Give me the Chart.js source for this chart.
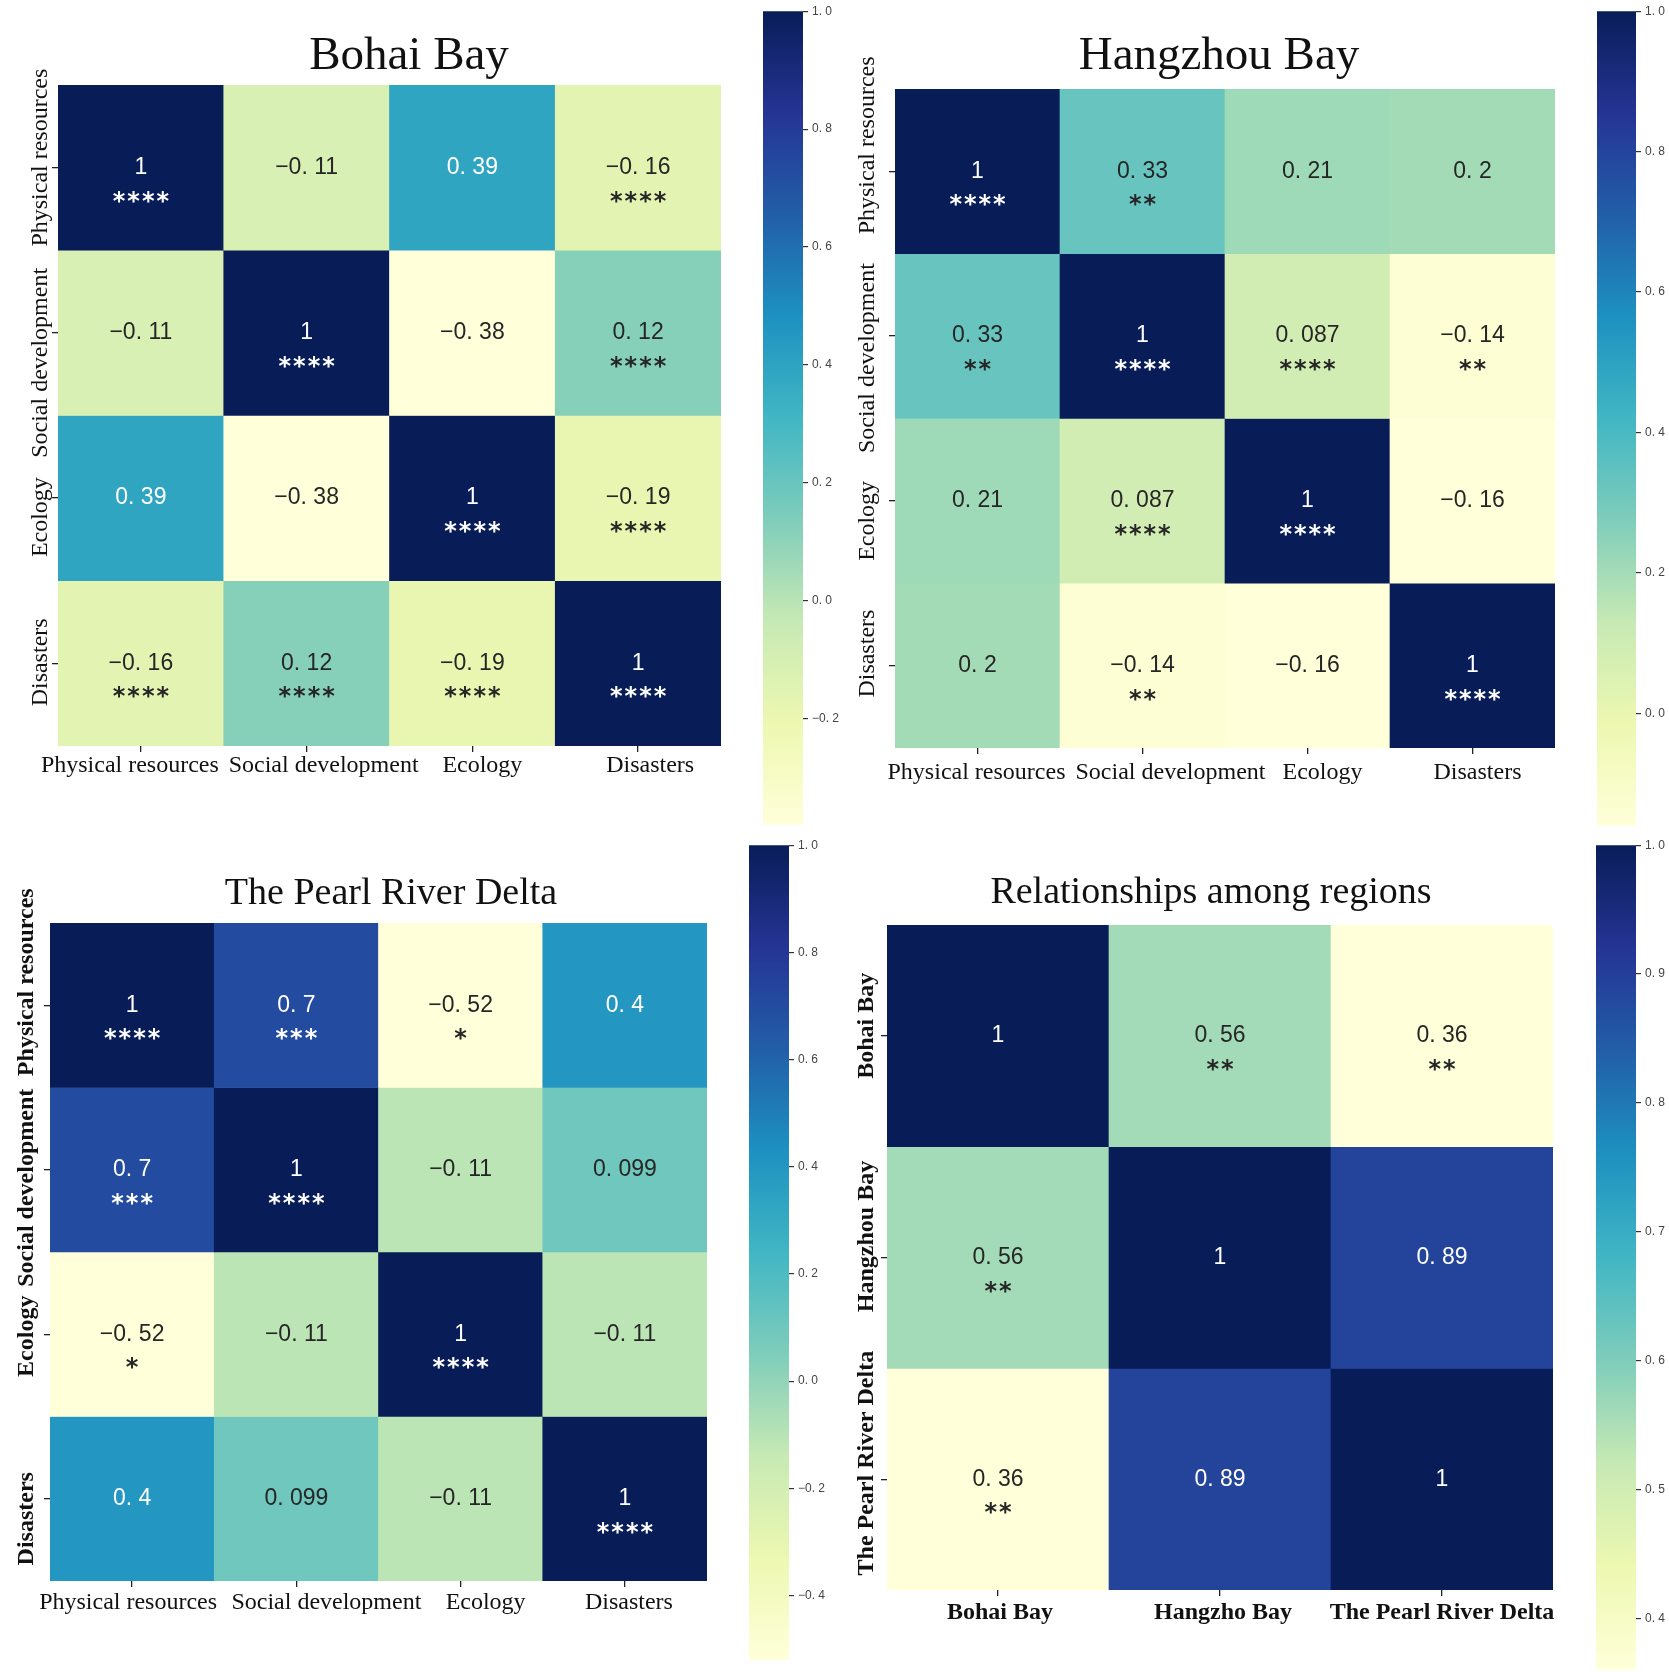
<!DOCTYPE html>
<html>
<head>
<meta charset="utf-8">
<script src="https://cdn.jsdelivr.net/npm/chart.js@4.4.1/dist/chart.umd.min.js"></script>
<style>
  html, body { margin: 0; padding: 0; background: #fff; }
  #page { position: relative; width: 1669px; height: 1672px; overflow: hidden; background: #fff; }
  canvas { position: absolute; }
</style>
</head>
<body>
<div id="page"></div>
<script>
// ===============================
// data
// ===============================
const factorLabels = ["Physical resources", "Social development", "Ecology", "Disasters"];
const regionRowLabels = ["Bohai Bay", "Hangzhou Bay", "The Pearl River Delta"];
const regionColLabels = ["Bohai Bay", "Hangzho Bay", "The Pearl River Delta"];

const bohaiCorr = [
  [1, -0.11, 0.39, -0.16],
  [-0.11, 1, -0.38, 0.12],
  [0.39, -0.38, 1, -0.19],
  [-0.16, 0.12, -0.19, 1]
];
const bohaiSig = [
  ["****", "", "", "****"],
  ["", "****", "", "****"],
  ["", "", "****", "****"],
  ["****", "****", "****", "****"]
];

const hangzhouCorr = [
  [1, 0.33, 0.21, 0.2],
  [0.33, 1, 0.087, -0.14],
  [0.21, 0.087, 1, -0.16],
  [0.2, -0.14, -0.16, 1]
];
const hangzhouSig = [
  ["****", "**", "", ""],
  ["**", "****", "****", "**"],
  ["", "****", "****", ""],
  ["", "**", "", "****"]
];

const prdCorr = [
  [1, 0.7, -0.52, 0.4],
  [0.7, 1, -0.11, 0.099],
  [-0.52, -0.11, 1, -0.11],
  [0.4, 0.099, -0.11, 1]
];
const prdSig = [
  ["****", "***", "*", ""],
  ["***", "****", "", ""],
  ["*", "", "****", ""],
  ["", "", "", "****"]
];

const regionCorr = [
  [1, 0.56, 0.36],
  [0.56, 1, 0.89],
  [0.36, 0.89, 1]
];
const regionSig = [
  ["", "**", "**"],
  ["**", "", ""],
  ["**", "", ""]
];

const bohaiCbarTicks = [-0.2, 0, 0.2, 0.4, 0.6, 0.8, 1.0];
const hangzhouCbarTicks = [0, 0.2, 0.4, 0.6, 0.8, 1.0];
const prdCbarTicks = [-0.4, -0.2, 0, 0.2, 0.4, 0.6, 0.8, 1.0];
const regionCbarTicks = [0.4, 0.5, 0.6, 0.7, 0.8, 0.9, 1.0];

// ===============================
// colormap (YlGnBu)
// ===============================
const YlGnBu = ["#ffffd9", "#edf8b1", "#c7e9b4", "#7fcdbb", "#41b6c4",
                "#1d91c0", "#225ea8", "#253494", "#081d58"];

function hexRgb(h) {
  return [1, 3, 5].map(i => parseInt(h.slice(i, i + 2), 16));
}

function cmapRgb(t) {
  t = Math.max(0, Math.min(1, t));
  const p = t * 8;
  const i = Math.min(7, Math.floor(p));
  const f = p - i;
  const a = hexRgb(YlGnBu[i]), b = hexRgb(YlGnBu[i + 1]);
  return a.map((v, k) => Math.round(v + (b[k] - v) * f));
}

function rgbStr(c) { return "rgb(" + c.join(",") + ")"; }

function textColorFor(c) {
  const lin = c.map(v => {
    v = v / 255;
    return v <= 0.03928 ? v / 12.92 : Math.pow((v + 0.055) / 1.055, 2.4);
  });
  const lum = 0.2126 * lin[0] + 0.7152 * lin[1] + 0.0722 * lin[2];
  return lum > 0.408 ? "#262626" : "#ffffff";
}

function fmtNum(v) {
  return String(v).replace("-", "\u2212").replace(".", ". ");
}

function makeCanvas(x, y, w, h) {
  const c = document.createElement("canvas");
  c.width = w; c.height = h;
  c.style.left = x + "px"; c.style.top = y + "px";
  c.style.width = w + "px"; c.style.height = h + "px";
  document.getElementById("page").appendChild(c);
  return c;
}

// ===============================
// heatmap
// ===============================
function heatmap(p) {
  const n = p.rows.length;
  const vmin = Math.min(...p.corr.flat());
  const [ax0, ay0, ax1, ay1] = p.area;
  const [cx, cy, cw, ch] = p.box;
  const yAxisW = ax0 - cx;
  const xAxisH = 44;

  const datasets = p.corr.map((row, r) => ({
    data: row.map(() => [r - 0.5, r + 0.5]),
    backgroundColor: row.map(v => rgbStr(cmapRgb((v - vmin) / (1 - vmin)))),
    borderWidth: 0,
    barPercentage: 1,
    categoryPercentage: 1,
    grouped: false
  }));

  const labels = {
    id: "heatText",
    afterDatasetsDraw(chart) {
      const ctx = chart.ctx;
      const xs = chart.scales.x, ys = chart.scales.y;
      ctx.save();
      p.corr.forEach((row, r) => {
        row.forEach((v, c) => {
          const px = xs.getPixelForValue(c);
          const py = ys.getPixelForValue(r);
          const col = textColorFor(cmapRgb((v - vmin) / (1 - vmin)));
          ctx.fillStyle = col;
          ctx.textAlign = "center";
          ctx.textBaseline = "middle";
          ctx.letterSpacing = "0px";
          ctx.font = '23px "Liberation Sans"';
          ctx.fillText(fmtNum(v), px, py);
          const s = p.sig[r][c];
          if (s) {
            ctx.textBaseline = "alphabetic";
            ctx.font = 'bold 24px "DejaVu Sans"';
            ctx.letterSpacing = "2px";
            ctx.fillText(s, px + 1, py + 41);
          }
        });
      });
      ctx.restore();
    },
    afterDraw(chart) {
      const ctx = chart.ctx;
      const xs = chart.scales.x, ys = chart.scales.y;
      ctx.save();
      ctx.fillStyle = "#111";
      ctx.textAlign = "center";
      // title
      ctx.font = p.titleSize + 'px "Liberation Serif"';
      ctx.textBaseline = "alphabetic";
      ctx.fillText(p.title, p.titleX - cx, p.titleY - cy);
      // x tick labels
      ctx.font = (p.xBold ? "bold " : "") + '24px "Liberation Serif"';
      ctx.textBaseline = "top";
      p.cols.forEach((name, c) => {
        ctx.fillText(name, xs.getPixelForValue(c) + p.xShift[c], chart.chartArea.bottom + p.xPad);
      });
      // y tick labels, rotated
      ctx.font = (p.yBold ? "bold " : "") + '24px "Liberation Serif"';
      ctx.textBaseline = "middle";
      p.rows.forEach((name, r) => {
        ctx.save();
        ctx.translate(p.yLabX - cx, ys.getPixelForValue(r) + p.yShift[r]);
        ctx.rotate(-Math.PI / 2);
        ctx.fillText(name, 0, 0);
        ctx.restore();
      });
      ctx.restore();
    }
  };

  new Chart(makeCanvas(cx, cy, cw, ch), {
    type: "bar",
    data: { labels: p.cols, datasets: datasets },
    options: {
      responsive: false,
      animation: false,
      devicePixelRatio: 1,
      layout: {
        padding: { left: 0, top: ay0 - cy, right: cx + cw - ax1, bottom: cy + ch - ay1 - xAxisH }
      },
      plugins: { legend: { display: false }, tooltip: { enabled: false } },
      scales: {
        x: {
          offset: true,
          grid: { display: true, offset: false, drawOnChartArea: false, drawTicks: true,
                  tickLength: 6, color: "#222", lineWidth: 1.3 },
          border: { display: false },
          ticks: { display: false },
          afterFit(s) { s.height = xAxisH; }
        },
        y: {
          type: "linear",
          min: -0.5, max: n - 0.5,
          reverse: true,
          afterBuildTicks(s) { s.ticks = p.rows.map((_, i) => ({ value: i })); },
          grid: { display: true, drawOnChartArea: false, drawTicks: true,
                  tickLength: 6, color: "#222", lineWidth: 1.3 },
          border: { display: false },
          ticks: { display: false },
          afterFit(s) { s.width = yAxisW; }
        }
      }
    },
    plugins: [labels]
  });
}

// ===============================
// colorbar
// ===============================
function colorbar(b) {
  const [bx0, by0, bx1, by1] = b.bar;
  const vmin = b.vmin, vmax = 1;
  const labW = 50;
  const top = Math.max(0, by0 - 10);
  const w = bx1 - bx0 + labW;
  const h = by1 + 10 - top;

  new Chart(makeCanvas(bx0, top, w, h), {
    type: "bar",
    data: {
      labels: [""],
      datasets: [{
        data: [[vmin, vmax]],
        backgroundColor(ctx) {
          const chart = ctx.chart;
          if (!chart.chartArea) return YlGnBu[0];
          const ys = chart.scales.y;
          const g = chart.ctx.createLinearGradient(0, ys.getPixelForValue(vmin), 0, ys.getPixelForValue(vmax));
          YlGnBu.forEach((c, i) => g.addColorStop(i / 8, c));
          return g;
        },
        borderWidth: 0,
        barPercentage: 1,
        categoryPercentage: 1
      }]
    },
    options: {
      responsive: false,
      animation: false,
      devicePixelRatio: 1,
      layout: { padding: { left: 0, right: 0, top: by0 - top, bottom: h - (by1 - top) } },
      plugins: { legend: { display: false }, tooltip: { enabled: false } },
      scales: {
        x: { display: false },
        y: {
          position: "right",
          min: vmin, max: vmax,
          afterBuildTicks(s) { s.ticks = b.ticks.map(v => ({ value: v })); },
          grid: { drawOnChartArea: false, drawTicks: true, tickLength: 5, color: "#333", lineWidth: 1.2 },
          border: { display: false },
          ticks: {
            color: "#444",
            font: { family: "Liberation Sans", size: 12 },
            padding: 4,
            callback: v => fmtNum(v.toFixed(1))
          },
          afterFit(s) { s.width = labW; }
        }
      }
    }
  });
}

// ===============================
// panels
// ===============================
heatmap({
  corr: bohaiCorr, sig: bohaiSig, rows: factorLabels, cols: factorLabels,
  area: [58, 85, 721, 746], box: [0, 0, 745, 800],
  title: "Bohai Bay", titleX: 409, titleY: 69, titleSize: 47,
  yLabX: 41, yShift: [-10, 30, 19, -1], xShift: [-11, 17, 10, 12],
  xPad: 8, yBold: false, xBold: false
});
heatmap({
  corr: hangzhouCorr, sig: hangzhouSig, rows: factorLabels, cols: factorLabels,
  area: [895, 89, 1555, 748], box: [845, 0, 745, 800],
  title: "Hangzhou Bay", titleX: 1219, titleY: 69, titleSize: 47,
  yLabX: 868, yShift: [-26, 22, 20, -12], xShift: [-1, 28, 15, 5],
  xPad: 13, yBold: false, xBold: false
});
heatmap({
  corr: prdCorr, sig: prdSig, rows: factorLabels, cols: factorLabels,
  area: [50, 923, 707, 1581], box: [0, 840, 745, 832],
  title: "The Pearl River Delta", titleX: 391, titleY: 904, titleSize: 38,
  yLabX: 27, yShift: [-23, 18, 2, 20], xShift: [-4, 30, 25, 4],
  xPad: 10, yBold: true, xBold: false
});
heatmap({
  corr: regionCorr, sig: regionSig, rows: regionRowLabels, cols: regionColLabels,
  area: [887, 925, 1553, 1590], box: [845, 840, 745, 832],
  title: "Relationships among regions", titleX: 1211, titleY: 903, titleSize: 38,
  yLabX: 867, yShift: [-10, -21, -16], xShift: [2, 3, 0],
  xPad: 11, yBold: true, xBold: true
});

colorbar({ bar: [763, 5, 803, 826], vmin: Math.min(...bohaiCorr.flat()), ticks: bohaiCbarTicks });
colorbar({ bar: [1597, 8, 1636, 827], vmin: Math.min(...hangzhouCorr.flat()), ticks: hangzhouCbarTicks });
colorbar({ bar: [749, 844, 789, 1661], vmin: Math.min(...prdCorr.flat()), ticks: prdCbarTicks });
colorbar({ bar: [1596, 844, 1636, 1671], vmin: Math.min(...regionCorr.flat()), ticks: regionCbarTicks });
</script>
</body>
</html>
